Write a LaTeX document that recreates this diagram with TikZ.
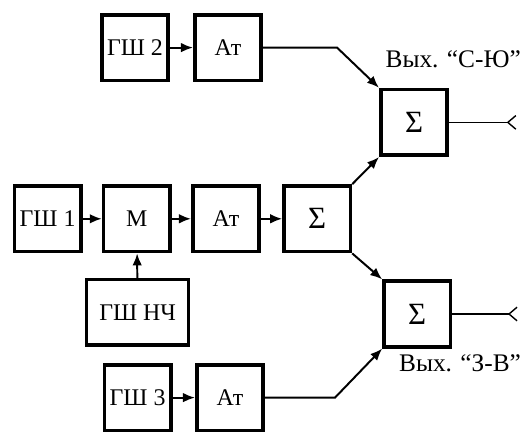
\documentclass[tikz,border=0pt]{standalone}
\usepackage{fontspec}
\setmainfont{Liberation Serif}
\usetikzlibrary{arrows.meta}

\tikzset{
  blk/.style={draw, line width=2.6pt, minimum width=1.66cm, minimum height=1.64cm,
    inner sep=1pt, font=\fontsize{17}{20}\selectfont},
  sig/.style={blk, font=\fontsize{22}{26}\selectfont},
  wire/.style={line width=1.4pt, -{Latex[length=3mm,width=2.4mm]}},
  outl/.style={line width=1pt},
  lab/.style={font=\fontsize{18}{21}\selectfont}
}

\begin{document}
\begin{tikzpicture}
  \useasboundingbox (0,0) rectangle (13,10.8);
  % generators and attenuators
  \node[blk] (gsh2) at (3.375,9.61) {ГШ 2};
  \node[blk] (at2) at (5.7,9.61) {Ат};
  \node[blk] (gsh1) at (1.19,5.33) {ГШ 1};
  \node[blk] (m) at (3.42,5.33) {М};
  \node[blk] (at1) at (5.65,5.33) {Ат};
  \node[blk, minimum width=2.55cm] (gshnch) at (3.44,2.99) {ГШ НЧ};
  \node[blk] (gsh3) at (3.44,0.86) {ГШ 3};
  \node[blk] (at3) at (5.75,0.86) {Ат};
  % adders
  \node[sig] (sum1) at (7.93,5.33) {Σ};
  \node[sig] (sumN) at (10.35,7.74) {Σ};
  \node[sig] (sumS) at (10.43,2.95) {Σ};
  % outputs
  \coordinate (outN) at ([xshift=1.47cm]sumN.east);
  \coordinate (outS) at ([xshift=1.42cm]sumS.east);
  \node[lab] (labN) at (11.33,9.32) {Вых. “С-Ю”};
  \node[lab] (labS) at (11.5,1.72) {Вых. “З-В”};

  \draw[wire] (gsh2) -- (at2);
  \draw[wire] (gsh1) -- (m);
  \draw[wire] (m) -- (at1);
  \draw[wire] (at1) -- (sum1);
  \draw[wire] (gshnch) -- (m);
  \draw[wire] (gsh3) -- (at3);
  \draw[wire] (at2.east) -- ++(1.85,0) -- (sumN.north west);
  \draw[wire] (at3.east) -- ++(1.75,0) -- (sumS.south west);
  \draw[wire] (sum1.north east) -- (sumN.south west);
  \draw[wire] (sum1.south east) -- (sumS.north west);
  \draw[outl] (sumN.east) -- (outN);
  \draw[outl] ([shift={(0.2,0.17)}]outN) -- (outN) -- ([shift={(0.2,-0.17)}]outN);
  \draw[outl] (sumS.east) -- (outS);
  \draw[outl] ([shift={(0.2,0.17)}]outS) -- (outS) -- ([shift={(0.2,-0.17)}]outS);
\end{tikzpicture}
\end{document}
